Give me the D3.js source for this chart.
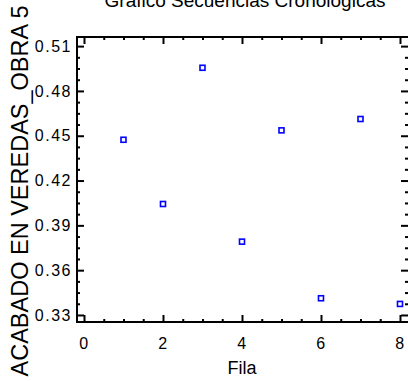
<!DOCTYPE html>
<html>
<head>
<meta charset="utf-8">
<script src="https://cdn.jsdelivr.net/npm/d3@7"></script>
<style>
  html, body { margin: 0; padding: 0; background: #fff; }
  svg { display: block; font-family: "Liberation Sans", Arial, sans-serif; }
</style>
</head>
<body>
<svg id="chart" width="408" height="381"></svg>
<script>
const titleText = "Gráfico Secuencias Cronológicas";
const xLabel = "Fila";
const yLabel = "ACABADO EN VEREDAS_OBRA 5";
const rows = [1, 2, 3, 4, 5, 6, 7, 8];
const values = [0.4473, 0.4043, 0.4955, 0.3791, 0.4536, 0.3412, 0.4612, 0.3374];
const xMajorTicks = [0, 2, 4, 6, 8];
const yMajorTicks = [0.33, 0.36, 0.39, 0.42, 0.45, 0.48, 0.51];

const svg = d3.select("#chart");
const L = 77, R = 409, T = 37, B = 322;

const x = d3.scaleLinear().domain([-0.177, 8.228]).range([L, R]);
const y = d3.scaleLinear().domain([0.3253, 0.5161]).range([B, T]);

const xMinor = d3.range(0, 8.01, 0.5).filter(v => Math.abs(v % 2) > 1e-9);
const yMinor = d3.range(0.33, 0.516, 0.0075).filter(v => {
  const r = Math.round((v - 0.33) / 0.0075);
  return r % 4 !== 0;
});

function styleAxis(g) {
  g.select(".domain").remove();
  g.selectAll("line").attr("stroke", "#000").attr("stroke-width", 2);
  g.selectAll("text").attr("fill", "#000").attr("font-size", 16)
    .attr("letter-spacing", "1.5px")
    .attr("font-family", '"Liberation Sans", Arial, sans-serif');
}

// Bottom axis with labels
svg.append("g").attr("transform", `translate(0,${B})`)
  .call(d3.axisBottom(x).tickValues(xMajorTicks).tickSize(-7).tickPadding(16).tickFormat(d3.format("d")))
  .call(styleAxis);
svg.append("g").attr("transform", `translate(0,${B})`)
  .call(d3.axisBottom(x).tickValues(xMinor).tickSize(-3).tickFormat(""))
  .call(styleAxis);
// Top axis ticks
svg.append("g").attr("transform", `translate(0,${T})`)
  .call(d3.axisTop(x).tickValues(xMajorTicks).tickSize(-7).tickFormat(""))
  .call(styleAxis);
svg.append("g").attr("transform", `translate(0,${T})`)
  .call(d3.axisTop(x).tickValues(xMinor).tickSize(-3).tickFormat(""))
  .call(styleAxis);
// Left axis with labels
svg.append("g").attr("transform", `translate(${L},0)`)
  .call(d3.axisLeft(y).tickValues(yMajorTicks).tickSize(-7).tickPadding(5).tickFormat(d3.format(".2f")))
  .call(styleAxis);
svg.append("g").attr("transform", `translate(${L},0)`)
  .call(d3.axisLeft(y).tickValues(yMinor).tickSize(-3).tickFormat(""))
  .call(styleAxis);
// Right axis ticks
svg.append("g").attr("transform", `translate(${R - 1},0)`)
  .call(d3.axisRight(y).tickValues(yMajorTicks).tickSize(-7).tickFormat(""))
  .call(styleAxis);
svg.append("g").attr("transform", `translate(${R - 1},0)`)
  .call(d3.axisRight(y).tickValues(yMinor).tickSize(-3).tickFormat(""))
  .call(styleAxis);

// Frame
svg.append("rect").attr("x", L).attr("y", T).attr("width", R - L).attr("height", B - T)
  .attr("fill", "none").attr("stroke", "#000").attr("stroke-width", 2);

// Points
svg.append("g").selectAll("rect.pt").data(rows.map((r, i) => ({ r, v: values[i] })))
  .join("rect").attr("class", "pt")
  .attr("x", d => x(d.r) - 2.5).attr("y", d => y(d.v) - 2.5)
  .attr("width", 5).attr("height", 5)
  .attr("fill", "#fff").attr("stroke", "#0000ff").attr("stroke-width", 1.6);

// Title
svg.append("text").attr("x", 245).attr("y", 7).attr("text-anchor", "middle")
  .attr("font-size", 19).attr("fill", "#000").text(titleText);

// X label
svg.append("text").attr("x", 242).attr("y", 374).attr("text-anchor", "middle")
  .attr("font-size", 18).attr("fill", "#000").text(xLabel);

// Y label
svg.append("text").attr("transform", `translate(28,${191}) rotate(-90)`)
  .attr("text-anchor", "middle").attr("font-size", 23.5).attr("fill", "#000").text(yLabel);
</script>
</body>
</html>
